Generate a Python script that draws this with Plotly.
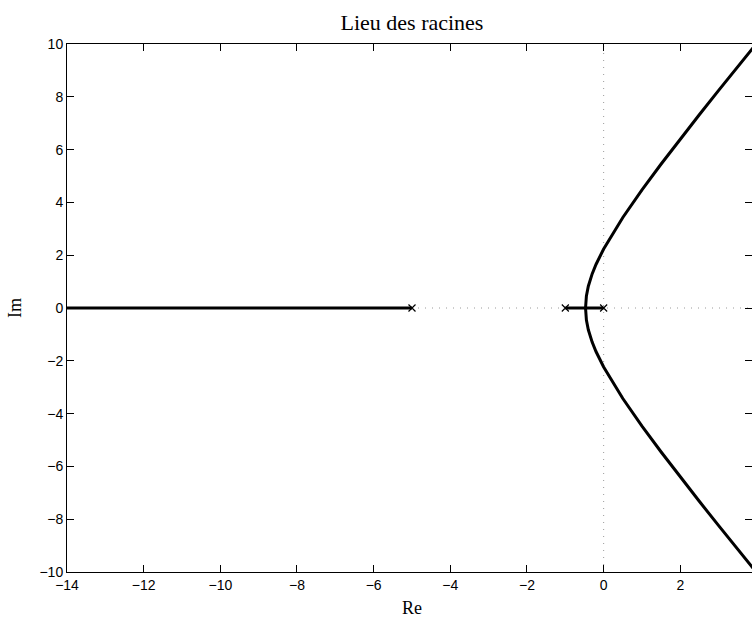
import plotly.graph_objects as go

# Open-loop poles (real axis)
pole_re = [-5.0, -1.0, 0.0]
pole_im = [0.0, 0.0, 0.0]

# Real-axis branch leaving the pole at -5 towards -infinity
left_re = [-5.0, -20.0]
left_im = [0.0, 0.0]

# Real-axis segment between the poles at -1 and 0
mid_re = [-1.0, 0.0]
mid_im = [0.0, 0.0]

# Complex branch from the breakaway point (upper half)
upper_re = [-0.4725, -0.47, -0.46, -0.45, -0.4, -0.3, -0.2, 0.0, 0.5, 1.0,
            1.5, 2.0, 2.5, 3.0, 3.5, 4.0, 4.5]
upper_im = [0.0, 0.151, 0.339, 0.456, 0.825, 1.292, 1.649, 2.236, 3.428,
            4.472, 5.454, 6.403, 7.331, 8.246, 9.151, 10.05, 10.94]

# Complex branch (lower half)
lower_re = [-0.4725, -0.47, -0.46, -0.45, -0.4, -0.3, -0.2, 0.0, 0.5, 1.0,
            1.5, 2.0, 2.5, 3.0, 3.5, 4.0, 4.5]
lower_im = [0.0, -0.151, -0.339, -0.456, -0.825, -1.292, -1.649, -2.236,
            -3.428, -4.472, -5.454, -6.403, -7.331, -8.246, -9.151, -10.05,
            -10.94]

x_ticks = [-14, -12, -10, -8, -6, -4, -2, 0, 2]
y_ticks = [-10, -8, -6, -4, -2, 0, 2, 4, 6, 8, 10]

x_range = [-14, 3.87]
y_range = [-10, 10]

line_style = dict(color="black", width=3)
guide_style = dict(color="#9a9a9a", width=1, dash="1px,6px")

serif = "Liberation Serif, Times New Roman, serif"
sans = "Liberation Sans, Arial, Helvetica, sans-serif"

fig = go.Figure()

# Dotted guide lines through the origin
fig.add_trace(go.Scatter(x=[-20, 20], y=[0, 0], mode="lines", line=guide_style,
                         hoverinfo="skip"))
fig.add_trace(go.Scatter(x=[0, 0], y=[-10, 10], mode="lines", line=guide_style,
                         hoverinfo="skip"))

for xs, ys in [(left_re, left_im), (mid_re, mid_im),
               (upper_re, upper_im), (lower_re, lower_im)]:
    fig.add_trace(go.Scatter(x=xs, y=ys, mode="lines", line=line_style))

fig.add_trace(go.Scatter(
    x=pole_re, y=pole_im, mode="markers",
    marker=dict(symbol="x-thin", size=7, color="black",
                line=dict(color="black", width=1.2)),
    cliponaxis=False,
))

axis_common = dict(
    showgrid=False, zeroline=False, showline=True, linecolor="black",
    linewidth=1, mirror="ticks", ticks="inside", ticklen=7, tickwidth=1,
    tickcolor="black",
    tickfont=dict(family=sans, size=14, color="black"),
)

fig.update_layout(
    width=752, height=619,
    margin=dict(l=67, r=0, t=44, b=47),
    paper_bgcolor="white", plot_bgcolor="white",
    showlegend=False,
    title=dict(text="Lieu des racines", xref="paper", x=0.5036,
               xanchor="center", y=1 - 22 / 619, yanchor="middle",
               yref="container",
               font=dict(family=serif, size=22, color="black")),
    xaxis=dict(range=x_range, tickvals=x_ticks,
               ticktext=[str(v).replace("-", "\u2212") for v in x_ticks],
               **axis_common),
    yaxis=dict(range=y_range, tickvals=y_ticks,
               ticktext=[str(v).replace("-", "\u2212") for v in y_ticks],
               **axis_common),
    annotations=[
        dict(text="Re", xref="paper", yref="paper", x=0.5036, y=0,
             yshift=-36, showarrow=False, xanchor="center", yanchor="middle",
             font=dict(family=serif, size=18, color="black")),
        dict(text="Im", xref="paper", yref="paper", x=0, y=0.5,
             xshift=-52, textangle=-90, showarrow=False, xanchor="center",
             yanchor="middle",
             font=dict(family=serif, size=18, color="black")),
    ],
)

fig.write_html("out.html")
